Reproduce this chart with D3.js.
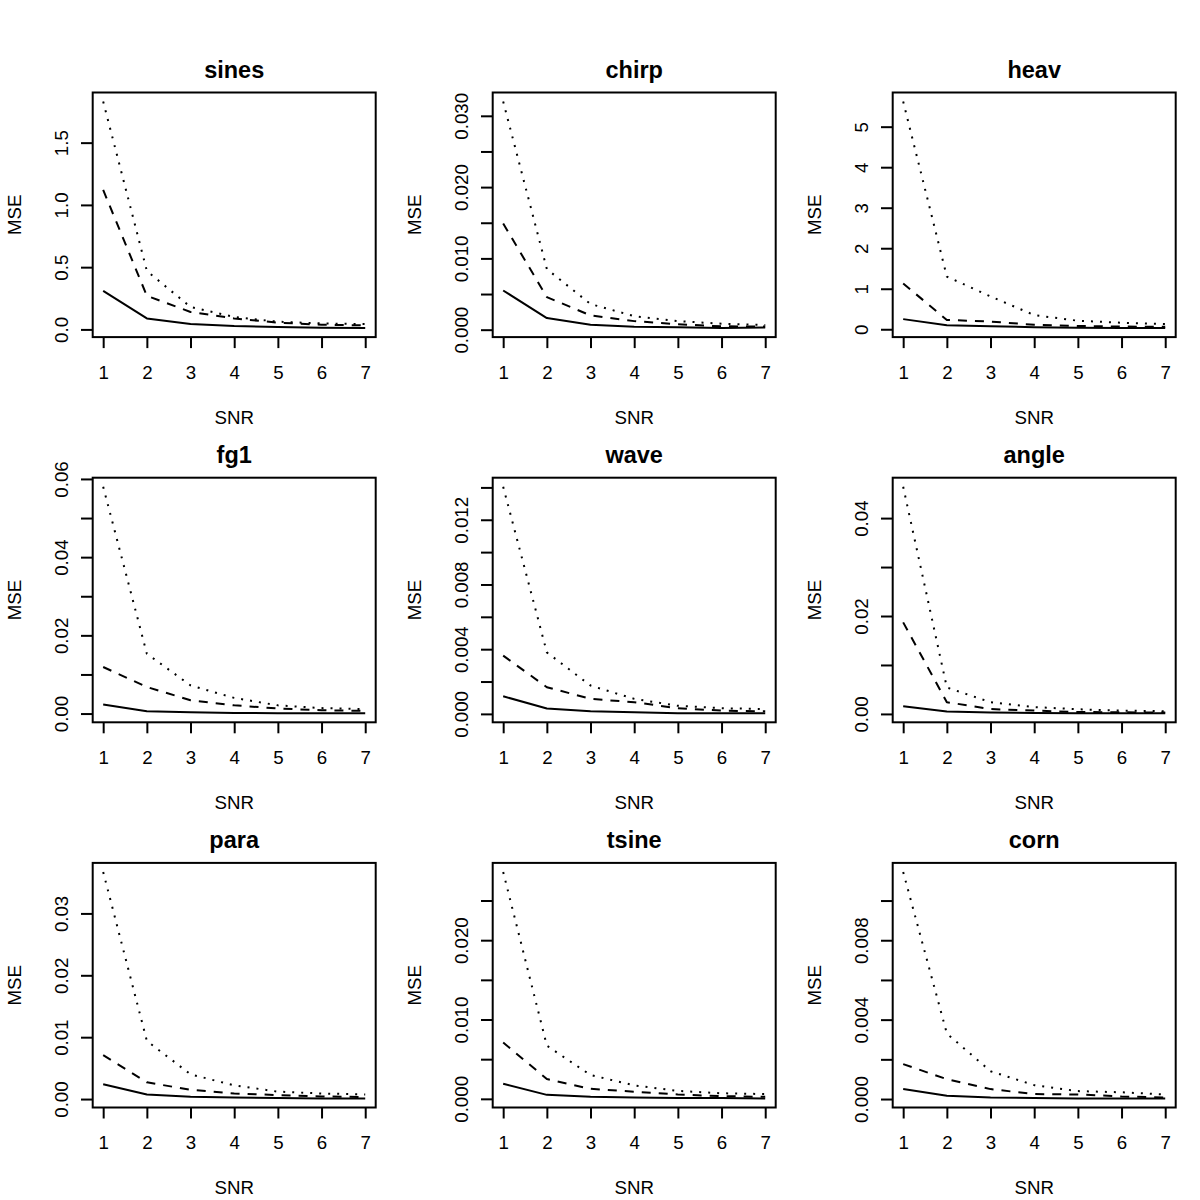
<!DOCTYPE html>
<html>
<head>
<meta charset="utf-8">
<script src="https://cdn.jsdelivr.net/npm/d3@7"></script>
<style>
  html, body { margin: 0; padding: 0; background: #fff; }
  svg { display: block; }
  text { font-family: "Liberation Sans", Arial, Helvetica, sans-serif; fill: #000; }
</style>
</head>
<body>
<svg id="chart" width="1200" height="1200"></svg>
<script>
// ---------------- data ----------------
const panelNames = ["sines", "chirp", "heav", "fg1", "wave", "angle", "para", "tsine", "corn"];
const snr = [1, 2, 3, 4, 5, 6, 7];

// MSE series per panel (solid, dashed, dotted lines)
const mseSolid = [
  [0.31, 0.088, 0.043, 0.027, 0.019, 0.013, 0.011],
  [0.0055, 0.00163, 0.0007, 0.00042, 0.00033, 0.00023, 0.0003],
  [0.25, 0.10, 0.074, 0.05, 0.04, 0.033, 0.03],
  [0.0023, 0.0006, 0.00034, 0.00017, 0.0001, 0.0001, 0.00008],
  [0.00109, 0.00033, 0.00016, 0.0001, 0.00004, 0.00004, 0.00004],
  [0.00156, 0.00048, 0.00027, 0.0002, 0.00014, 0.00014, 0.00014],
  [0.0024, 0.00075, 0.00038, 0.00027, 0.00016, 0.0001, 0.0001],
  [0.0019, 0.0005, 0.00025, 0.00017, 0.0001, 0.0001, 0.00005],
  [0.0005, 0.00017, 0.00008, 0.00005, 0.00003, 0.00003, 0.00003]
];
const mseDashed = [
  [1.12, 0.27, 0.14, 0.088, 0.054, 0.038, 0.032],
  [0.0149, 0.00457, 0.002, 0.0012, 0.00075, 0.00047, 0.00045],
  [1.13, 0.23, 0.19, 0.11, 0.08, 0.066, 0.06],
  [0.0119, 0.0068, 0.0034, 0.0021, 0.0013, 0.00085, 0.0007],
  [0.0036, 0.00165, 0.00093, 0.00072, 0.00035, 0.0002, 0.00016],
  [0.0187, 0.0024, 0.001, 0.00068, 0.0004, 0.00034, 0.00027],
  [0.0071, 0.0027, 0.0015, 0.0009, 0.00065, 0.00043, 0.00032],
  [0.0071, 0.0025, 0.00126, 0.0009, 0.00055, 0.00034, 0.00025],
  [0.00176, 0.001, 0.0005, 0.00025, 0.00023, 0.00013, 0.00008]
];
const mseDotted = [
  [1.83, 0.47, 0.18, 0.10, 0.062, 0.048, 0.043],
  [0.032, 0.0085, 0.0036, 0.0019, 0.0012, 0.00084, 0.00065],
  [5.62, 1.30, 0.81, 0.35, 0.21, 0.16, 0.13],
  [0.058, 0.0153, 0.0072, 0.004, 0.0021, 0.0014, 0.0011],
  [0.01404, 0.0038, 0.00175, 0.00093, 0.0005, 0.00035, 0.0003],
  [0.0464, 0.0054, 0.0024, 0.0014, 0.00095, 0.00068, 0.00054],
  [0.0367, 0.0094, 0.004, 0.0022, 0.0012, 0.0009, 0.00075],
  [0.0286, 0.0067, 0.003, 0.0017, 0.001, 0.0007, 0.0006],
  [0.01144, 0.0033, 0.0014, 0.0007, 0.0004, 0.00034, 0.00023]
];

// y-axis ticks and their labels (blank = tick without label)
const yTicks = [
  [0, 0.5, 1.0, 1.5],
  [0, 0.005, 0.010, 0.015, 0.020, 0.025, 0.030],
  [0, 1, 2, 3, 4, 5],
  [0, 0.01, 0.02, 0.03, 0.04, 0.05, 0.06],
  [0, 0.002, 0.004, 0.006, 0.008, 0.010, 0.012, 0.014],
  [0, 0.01, 0.02, 0.03, 0.04],
  [0, 0.01, 0.02, 0.03],
  [0, 0.005, 0.010, 0.015, 0.020, 0.025],
  [0, 0.002, 0.004, 0.006, 0.008, 0.010]
];
const yTickLabels = [
  ["0.0", "0.5", "1.0", "1.5"],
  ["0.000", "", "0.010", "", "0.020", "", "0.030"],
  ["0", "1", "2", "3", "4", "5"],
  ["0.00", "", "0.02", "", "0.04", "", "0.06"],
  ["0.000", "", "0.004", "", "0.008", "", "0.012", ""],
  ["0.00", "", "0.02", "", "0.04"],
  ["0.00", "0.01", "0.02", "0.03"],
  ["0.000", "", "0.010", "", "0.020", ""],
  ["0.000", "", "0.004", "", "0.008", ""]
];
const xLabel = "SNR";
const yLabel = "MSE";

// ---------------- layout ----------------
const boxLeft0 = 92.7, colPitch = 400, boxW = 283;
const boxTop0 = 92.5, rowPitch = 385.2, boxH = 244.6;
const lw = 2;
const fontSize = 18.7, titleSize = 23.5;
const lineStyles = [
  { key: "solid", dash: null },
  { key: "dashed", dash: "9,8" },
  { key: "dotted", dash: "2,7" }
];

const svg = d3.select("#chart");

panelNames.forEach((name, i) => {
  const col = i % 3, row = Math.floor(i / 3);
  const left = boxLeft0 + col * colPitch;
  const top = boxTop0 + row * rowPitch;
  const g = svg.append("g").attr("transform", `translate(${left},${top})`);

  const series = [mseSolid[i], mseDashed[i], mseDotted[i]];
  const all = series.flat();
  const mn = d3.min(all), mx = d3.max(all);
  const r = mx - mn;
  const x = d3.scaleLinear().domain([1 - 0.04 * 6, 7 + 0.04 * 6]).range([0, boxW]);
  const y = d3.scaleLinear().domain([mn - 0.04 * r, mx + 0.04 * r]).range([boxH, 0]);

  // lines
  const line = d3.line().x((d, j) => x(snr[j])).y(d => y(d));
  series.forEach((s, k) => {
    g.append("path")
      .datum(s)
      .attr("d", line)
      .attr("fill", "none")
      .attr("stroke", "#000")
      .attr("stroke-width", lw)
      .attr("stroke-linejoin", "round")
      .attr("stroke-dasharray", lineStyles[k].dash);
  });

  // box
  g.append("rect")
    .attr("x", 0).attr("y", 0).attr("width", boxW).attr("height", boxH)
    .attr("fill", "none").attr("stroke", "#000").attr("stroke-width", lw);

  // x axis
  const xa = g.append("g").attr("transform", `translate(0,${boxH})`)
    .call(d3.axisBottom(x).tickValues(snr).tickFormat(d3.format("d")).tickSize(11).tickSizeOuter(0));
  xa.select(".domain").remove();
  xa.selectAll(".tick line").attr("stroke-width", lw);
  xa.selectAll(".tick text")
    .attr("y", 41.7).attr("dy", 0)
    .style("font-size", fontSize + "px")
    .style("font-family", '"Liberation Sans", Arial, sans-serif')
    .attr("fill", "#000");

  // y axis
  const ya = g.append("g")
    .call(d3.axisLeft(y).tickValues(yTicks[i]).tickFormat((d, j) => yTickLabels[i][j]).tickSize(11.7).tickSizeOuter(0));
  ya.select(".domain").remove();
  ya.selectAll(".tick line").attr("stroke-width", lw);
  ya.selectAll(".tick text")
    .attr("x", 0).attr("dy", 0)
    .attr("text-anchor", "middle")
    .attr("transform", "translate(-24.4,0) rotate(-90)")
    .style("font-size", fontSize + "px")
    .style("font-family", '"Liberation Sans", Arial, sans-serif')
    .attr("fill", "#000");

  // title
  g.append("text")
    .attr("x", boxW / 2).attr("y", -15)
    .attr("text-anchor", "middle")
    .style("font-size", titleSize + "px")
    .style("font-weight", "bold")
    .text(name);

  // axis titles
  g.append("text")
    .attr("x", boxW / 2).attr("y", boxH + 86.6)
    .attr("text-anchor", "middle")
    .style("font-size", fontSize + "px")
    .text(xLabel);
  g.append("text")
    .attr("transform", `translate(-71.7,${boxH / 2}) rotate(-90)`)
    .attr("text-anchor", "middle")
    .style("font-size", fontSize + "px")
    .text(yLabel);
});
</script>
</body>
</html>
